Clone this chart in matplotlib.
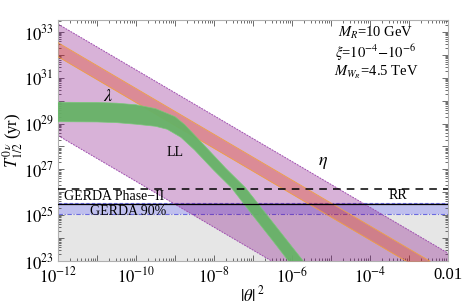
import numpy as np
import matplotlib.pyplot as plt
from matplotlib.ticker import FixedLocator, LogLocator, NullFormatter

plt.rcParams['font.family'] = ['Liberation Serif', 'DejaVu Serif']
plt.rcParams['mathtext.fontset'] = 'stix'

# straight bands: value of T_1/2 (yr) at |theta|^2 = 1e-12 and 1e-2
theta2_ends = [1e-12, 1e-2]
eta_hi = [2.2e33, 2.2e23]
eta_lo = [3.0e28, 3.0e18]
lam_hi = [3.4e32, 3.4e22]
lam_lo = [8.3e31, 8.3e21]

# LL band, edges (log10 values)
ll_hi_logx = [-12, -11, -10.5, -10, -9.5, -9.0, -8.75, -8.5, -8.14, -7.7, -7.19, -6.5, -6.0, -5.73, -5.5]
ll_hi_logt = [29.93, 29.92, 29.89, 29.82, 29.65, 29.3, 28.95, 28.5, 27.85, 27.05, 26.19, 24.7, 23.62, 23.04, 22.5]
ll_lo_logx = [-12, -11, -10.5, -10, -9.5, -9.2, -8.85, -8.5, -8.0, -7.55, -7.0, -6.5, -6.11, -5.8]
ll_lo_logt = [29.08, 29.07, 29.04, 28.97, 28.88, 28.75, 28.4, 27.85, 26.95, 26.19, 24.98, 23.9, 23.04, 22.35]

# GERDA
gerda_phase2 = 1.4e26
gerda_limit = 3.0e25
gerda_band = [1.1e25, 3.3e25]

x_exps = list(range(-12, -1))
x_labels = [r'$10^{%d}$' % e if e % 2 == 0 else '' for e in x_exps]
x_labels[-1] = '0.01'
y_exps = list(range(23, 34))
y_labels = [r'$10^{%d}$' % e if e % 2 == 1 else '' for e in y_exps]

fig = plt.figure(figsize=(4.63, 3.05), dpi=100)
ax = fig.add_axes([58/463, 44/305, 390/463, 241/305])
ax.set_xscale('log')
ax.set_yscale('log')
xlim = (1e-12, 1e-2)
ylim = (1e23, 10**33.52)

# excluded / sensitivity regions
ax.fill_between(xlim, ylim[0], gerda_band[0], color='#e6e6e6', lw=0, zorder=0)
ax.fill_between(xlim, gerda_band[0], gerda_band[1], color='#bfbfee', lw=0, zorder=0)
ax.axhline(gerda_band[1], color='#6a6ae0', lw=0.8, ls=(0, (3, 2)), zorder=1)
ax.axhline(gerda_band[0], color='#6a6ae0', lw=0.8, ls=(0, (4, 1.5, 1, 1.5)), zorder=1)

# eta band
ax.fill_between(theta2_ends, eta_lo, eta_hi, color=(0.5, 0, 0.5), alpha=0.3, lw=0, zorder=2)
ax.plot(theta2_ends, eta_hi, color='#a050b0', lw=0.7, ls=(0, (2, 1)), zorder=2)
ax.plot(theta2_ends, eta_lo, color='#a050b0', lw=0.7, ls=(0, (2, 1)), zorder=2)

# lambda band
ax.fill_between(theta2_ends, lam_lo, lam_hi, color=(0.89, 0.2, 0.0), alpha=0.3, lw=0, zorder=3)
ax.plot(theta2_ends, lam_hi, color='#f0a040', lw=0.6, zorder=3)
ax.plot(theta2_ends, lam_lo, color='#f0a040', lw=0.6, zorder=3)

# LL band
px = np.concatenate([10.0**np.array(ll_hi_logx), 10.0**np.array(ll_lo_logx)[::-1]])
py = np.concatenate([10.0**np.array(ll_hi_logt), 10.0**np.array(ll_lo_logt)[::-1]])
ax.fill(px, py, color='#66b266', alpha=0.95, lw=0.5, ec='#78c878', zorder=4)

ax.axhline(gerda_phase2, color='black', lw=1.1, ls=(0, (5, 4)), zorder=5)
ax.axhline(gerda_limit, color='black', lw=0.9, zorder=5)

# labels
ax.text(10**-10.71, 10**30.16, r'$\lambda$', fontsize=13, ha='center', va='center', zorder=6)
ax.text(10**-8.99, 10**27.72, 'LL', fontsize=10, ha='center', va='center', zorder=6)
ax.text(10**-5.2, 10**27.28, r'$\eta$', fontsize=13, ha='center', va='center', zorder=6)
ax.text(10**-3.29, 10**25.84, 'RR', fontsize=10, ha='center', va='center', zorder=6)
ax.text(10**-11.85, 10**25.8, 'GERDA Phase\u2212II', fontsize=10, ha='left', va='center', zorder=6)
ax.text(10**-10.2, 10**25.17, 'GERDA 90%', fontsize=10, ha='center', va='center', zorder=6)

ax.text(0.815, 0.945, r'$M_R$=10 GeV', transform=ax.transAxes, fontsize=10.5, ha='center', va='center')
ax.text(0.815, 0.865, r'$\xi$=$10^{-4}$$-$$10^{-6}$', transform=ax.transAxes, fontsize=10.5, ha='center', va='center')
ax.text(0.815, 0.785, r'$M_{W_R}$=4.5 TeV', transform=ax.transAxes, fontsize=10.5, ha='center', va='center')

ax.set_xlim(xlim)
ax.set_ylim(ylim)
ax.xaxis.set_major_locator(FixedLocator([10.0**e for e in x_exps]))
ax.xaxis.set_ticklabels(x_labels)
ax.yaxis.set_major_locator(FixedLocator([10.0**e for e in y_exps]))
ax.yaxis.set_ticklabels(y_labels)
ax.xaxis.set_minor_locator(LogLocator(base=10, subs=np.arange(2, 10), numticks=50))
ax.yaxis.set_minor_locator(LogLocator(base=10, subs=np.arange(2, 10), numticks=50))
ax.xaxis.set_minor_formatter(NullFormatter())
ax.yaxis.set_minor_formatter(NullFormatter())
ax.tick_params(which='both', direction='in', top=True, right=True, color='#555555', labelsize=12, width=0.6)
ax.tick_params(which='major', length=4)
ax.tick_params(which='minor', length=2)
ax.tick_params(axis='x', pad=4)
ax.tick_params(axis='y', pad=3)
for s in ax.spines.values():
    s.set_color('#b0b0b0')
    s.set_linewidth(0.8)

ax.set_xlabel(r'$|\theta|^{\ 2}$', fontsize=12)
ax.xaxis.set_label_coords(0.5, -0.1)
ax.set_ylabel(r'$T^{0\,\nu}_{1/2}$ (yr)', fontsize=12)
ax.yaxis.set_label_coords(-0.085, 0.5)

fig.savefig('out.png', dpi=100)
